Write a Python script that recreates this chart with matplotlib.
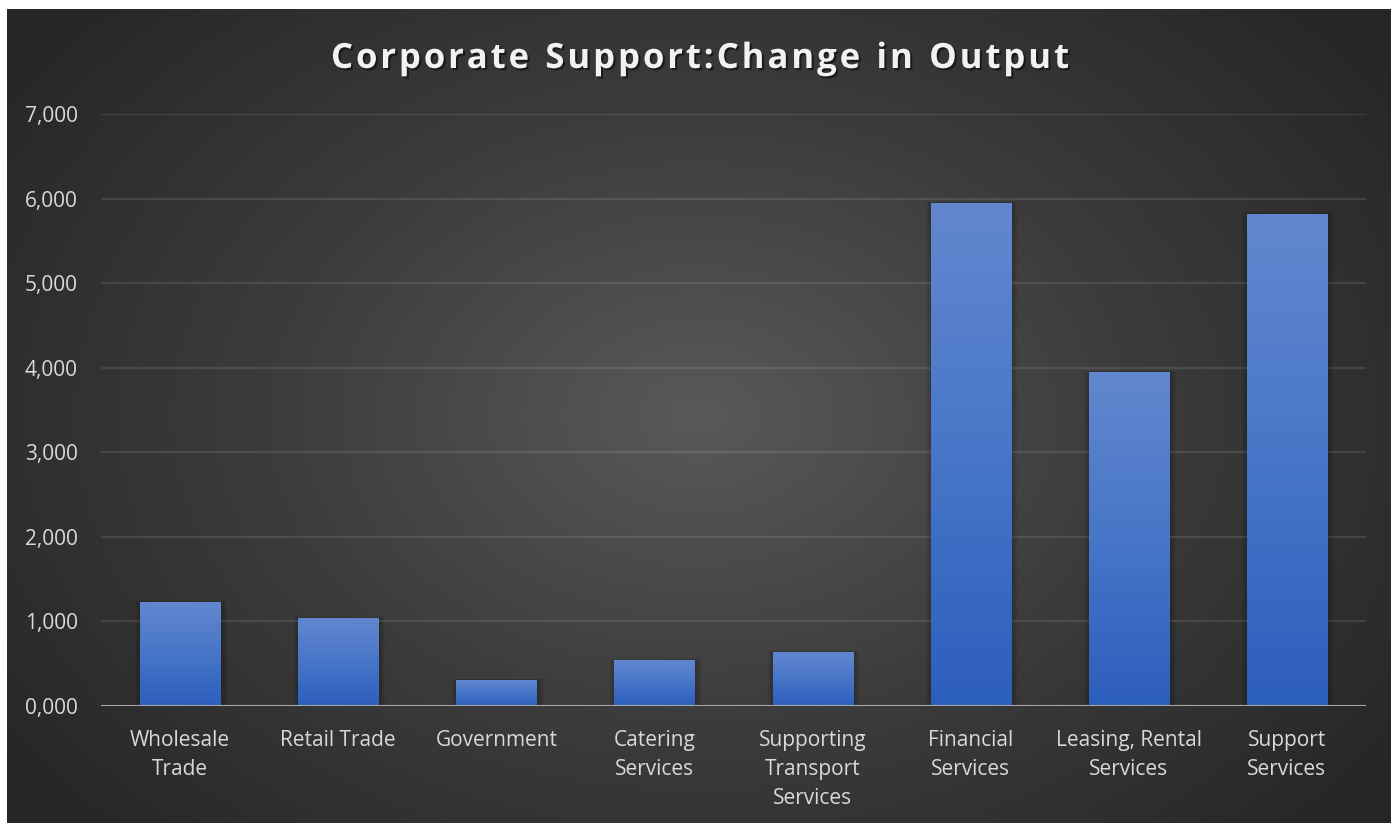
import numpy as np
import matplotlib
matplotlib.use("Agg")
import matplotlib.pyplot as plt
from matplotlib.colors import LinearSegmentedColormap
from matplotlib.patches import Rectangle
from matplotlib.ticker import FuncFormatter
import matplotlib.patheffects as pe

CATEGORIES = ["Wholesale\nTrade", "Retail Trade", "Government", "Catering\nServices",
              "Supporting\nTransport\nServices", "Financial\nServices",
              "Leasing, Rental\nServices", "Support\nServices"]
OUTPUT_CHANGE = [1230, 1040, 310, 545, 640, 5950, 3950, 5820]
Y_TICKS = [0, 1000, 2000, 3000, 4000, 5000, 6000, 7000]
TITLE = "Corporate Support:Change in Output"

TEXT = "#d9d9d9"
FONT = "Open Sans"

W, H = 1391, 823
fig = plt.figure(figsize=(W / 100, H / 100), dpi=100, facecolor="white")

# radial dark background, lighter in the middle
bg = fig.add_axes([7 / W, 0, 1 - 7 / W, 1 - 9 / H])
bg.set_axis_off()
yy, xx = np.mgrid[0:1:400j, 0:1:700j]
r = np.sqrt(((xx - 0.5) / 0.62) ** 2 + ((yy - 0.5) / 0.75) ** 2)
shade = np.clip(r, 0, 1)
bg_cmap = LinearSegmentedColormap.from_list("bg", ["#595959", "#3c3c3c", "#262626"])
bg.imshow(shade, cmap=bg_cmap, vmin=0, vmax=1, aspect="auto",
          extent=(0, 1, 0, 1), interpolation="bilinear")
bg.set_xlim(0, 1)
bg.set_ylim(0, 1)

ax = fig.add_axes([101 / W, 117 / H, 1265 / W, 592 / H])
ax.patch.set_alpha(0)
x = np.arange(len(CATEGORIES))
bars = ax.bar(x, OUTPUT_CHANGE, width=0.506, color="#4a77c9", lw=0, zorder=3)

bar_cmap = LinearSegmentedColormap.from_list("bar", ["#2c5ebc", "#4776c8", "#6387cf"])
grad = np.linspace(0, 1, 256).reshape(-1, 1)
for b in bars:
    x0, w, h = b.get_x(), b.get_width(), b.get_height()
    # soft shadow around the bar
    for k in range(8):
        pad = 0.005 * (k + 1)
        ax.add_patch(Rectangle((x0 - pad + 0.006, 0), w + 2 * pad, h + pad * 250,
                               facecolor="black", alpha=0.025, lw=0, zorder=2))
    im = ax.imshow(grad, cmap=bar_cmap, origin="lower", aspect="auto",
                   extent=(x0, x0 + w, 0, h), zorder=4, interpolation="bilinear")
    im.set_clip_path(b)

ax.set_xlim(-0.5, len(CATEGORIES) - 0.5)
ax.set_ylim(0, 7000)
ax.set_yticks(Y_TICKS)
ax.yaxis.set_major_formatter(FuncFormatter(lambda v, _: f"{int(v) // 1000},{int(v) % 1000:03d}"))
ax.set_xticks(x)
ax.set_xticklabels(CATEGORIES, linespacing=1.5)
ax.grid(axis="y", color="white", alpha=0.1, lw=1.6, zorder=1)
ax.axhline(0, color="#a8a8a8", lw=2.2, zorder=5)
for s in ax.spines.values():
    s.set_visible(False)
ax.tick_params(axis="both", length=0, colors=TEXT, labelsize=15)
ax.tick_params(axis="x", pad=17)
ax.tick_params(axis="y", pad=55)  # points; puts the left edge near x=25 px
for lab in ax.get_yticklabels():
    lab.set_horizontalalignment("left")
for lab in ax.get_xticklabels() + ax.get_yticklabels():
    lab.set_fontfamily(FONT)

# title with extra letter spacing: lay the glyphs out one by one
renderer = fig.canvas.get_renderer()
title_kw = dict(color="#f2f2f2", fontsize=25, fontweight="bold", family=FONT,
                va="center", ha="left",
                path_effects=[pe.withSimplePatchShadow(offset=(1.5, -1.5),
                                                       shadow_rgbFace="black", alpha=0.5)])
tracking = 2.9  # px between glyphs
glyphs = []
for ch in TITLE:
    t = fig.text(0, 1 - 59 / H, ch, **title_kw)
    glyphs.append(t)
widths = []
for t in glyphs:
    if t.get_text() == " ":
        t.set_text("a")
        widths.append(t.get_window_extent(renderer).width * 0.5)
        t.set_text(" ")
    else:
        widths.append(t.get_window_extent(renderer).width)
total = sum(widths) + tracking * (len(glyphs) - 1)
cx = 700
pos = cx - total / 2
for t, wd in zip(glyphs, widths):
    t.set_x(pos / W)
    pos += wd + tracking

fig.savefig("out.png", dpi=100, facecolor="white")
